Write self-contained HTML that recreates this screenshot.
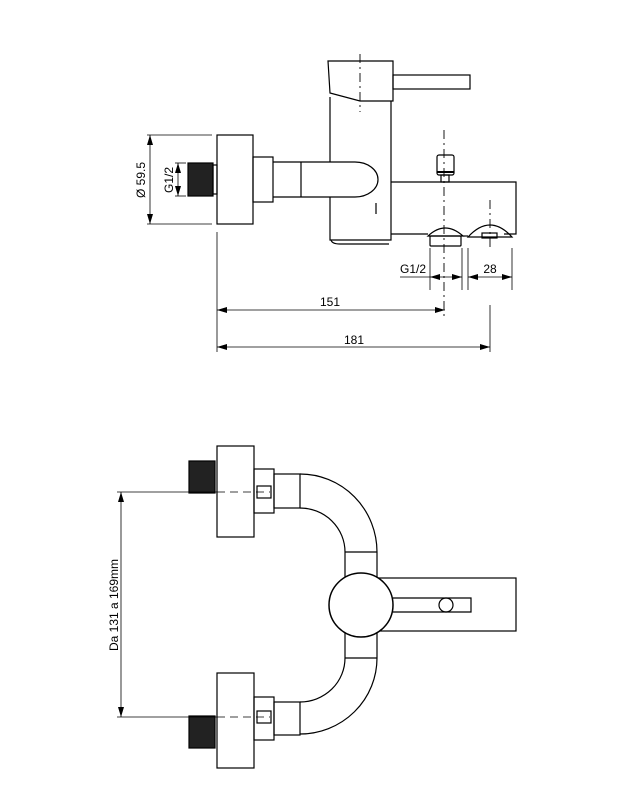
<!DOCTYPE html>
<html><head><meta charset="utf-8"><style>html,body{margin:0;padding:0;background:#fff}svg{display:block}</style></head>
<body>
<svg width="635" height="791" viewBox="0 0 635 791" xmlns="http://www.w3.org/2000/svg" font-family="Liberation Sans, sans-serif" font-size="12">
<defs>
<marker id="a" viewBox="0 0 10 6" refX="10" refY="3" markerWidth="10" markerHeight="6" orient="auto-start-reverse" markerUnits="userSpaceOnUse"><path d="M0,0L10,3L0,6z" fill="#000"/></marker>
</defs>
<g fill="none" stroke="#000" stroke-width="1.2">
<!-- TOP VIEW -->
<path d="M328,61H393V101H360L330,93Z"/>
<rect x="393" y="75" width="77" height="14"/>
<path d="M330,97V162M330,197V240H391V101"/>
<path d="M331,240Q332,244 340,244H389"/>
<line x1="360" y1="54" x2="360" y2="112" stroke-dasharray="9,4,2,4" stroke-width="0.9"/>
<rect x="217" y="135" width="36" height="89"/>
<rect x="253" y="157" width="20" height="45"/>
<path d="M273,162H355A23,17.5 0 0 1 355,197H273"/>
<line x1="301" y1="162" x2="301" y2="197"/>
<rect x="188" y="163" width="25" height="33" fill="#222"/>
<rect x="213" y="165" width="4" height="29"/>
<line x1="376" y1="203" x2="376" y2="214"/>
<path d="M391,182H516V234H504"/>
<path d="M391,234H428"/>
<path d="M463,236H468"/>
<rect x="437" y="155" width="17" height="20" rx="2"/>
<line x1="437" y1="172" x2="454" y2="172" stroke-width="2"/>
<rect x="441" y="175" width="8" height="7"/>
<path d="M428,236Q445,220 463,236Z"/>
<rect x="430" y="236" width="31" height="10" rx="1"/>
<path d="M468,237Q490,213 512,237Z"/>
<rect x="482" y="233" width="15" height="5"/>
<line x1="444" y1="130" x2="444" y2="316" stroke-dasharray="9,4,2,4" stroke-width="0.9"/>
<line x1="490" y1="200" x2="490" y2="250" stroke-dasharray="9,4,2,4" stroke-width="0.9"/>
<g stroke-width="0.8">
<line x1="147" y1="135" x2="212" y2="135"/><line x1="147" y1="224" x2="212" y2="224"/>
<line x1="150" y1="135" x2="150" y2="224" marker-start="url(#a)" marker-end="url(#a)"/>
<line x1="175" y1="163" x2="186" y2="163"/><line x1="175" y1="196" x2="186" y2="196"/>
<line x1="178" y1="163" x2="178" y2="196" marker-start="url(#a)" marker-end="url(#a)"/>
<line x1="430" y1="248" x2="430" y2="290"/><line x1="462" y1="248" x2="462" y2="290"/>
<line x1="468" y1="248" x2="468" y2="290"/><line x1="512" y1="248" x2="512" y2="290"/>
<line x1="400" y1="277" x2="430" y2="277"/>
<line x1="430" y1="277" x2="462" y2="277" marker-start="url(#a)" marker-end="url(#a)"/>
<line x1="468" y1="277" x2="512" y2="277" marker-start="url(#a)" marker-end="url(#a)"/>
<line x1="217" y1="232" x2="217" y2="352"/>
<line x1="490" y1="305" x2="490" y2="352"/>
<line x1="217" y1="310" x2="445" y2="310" marker-start="url(#a)" marker-end="url(#a)"/>
<line x1="217" y1="347" x2="490" y2="347" marker-start="url(#a)" marker-end="url(#a)"/>
</g>
<!-- BOTTOM VIEW -->
<rect x="217" y="446" width="37" height="91"/>
<rect x="189" y="461" width="26" height="32" fill="#222"/>
<rect x="254" y="469" width="20" height="44"/>
<rect x="274" y="474" width="26" height="34"/>
<path d="M300,474A77,78 0 0 1 377,552V658A77,76 0 0 1 300,734"/>
<path d="M300,508A45,44 0 0 1 345,552V658A45,44 0 0 1 300,702"/>
<line x1="345" y1="552" x2="377" y2="552"/>
<line x1="345" y1="658" x2="377" y2="658"/>
<rect x="377" y="578" width="139" height="53"/>
<circle cx="361" cy="605" r="32" fill="#fff" stroke-width="1.5"/>
<path d="M393,598H471V612H393"/>
<circle cx="446" cy="605" r="7"/>
<rect x="217" y="673" width="37" height="95"/>
<rect x="189" y="716" width="26" height="32" fill="#222"/>
<rect x="254" y="697" width="20" height="43"/>
<rect x="274" y="702" width="26" height="33"/>
<rect x="257" y="486" width="14" height="12"/>
<rect x="257" y="711" width="14" height="12"/>
<g stroke-width="0.8">
<line x1="117" y1="492" x2="217" y2="492"/>
<line x1="117" y1="717" x2="217" y2="717"/>
<line x1="217" y1="492" x2="270" y2="492" stroke-dasharray="8,5"/>
<line x1="217" y1="717" x2="270" y2="717" stroke-dasharray="8,5"/>
<line x1="121" y1="492" x2="121" y2="717" marker-start="url(#a)" marker-end="url(#a)"/>
</g>
</g>
<g fill="#000" font-size="12">
<text x="145" y="180" transform="rotate(-90 145 180)" text-anchor="middle">Ø 59.5</text>
<text x="173" y="180" transform="rotate(-90 173 180)" text-anchor="middle">G1/2</text>
<text x="413" y="273" text-anchor="middle">G1/2</text>
<text x="490" y="273" text-anchor="middle">28</text>
<text x="330" y="306" text-anchor="middle">151</text>
<text x="354" y="344" text-anchor="middle">181</text>
<text x="118" y="605" transform="rotate(-90 118 605)" text-anchor="middle">Da 131 a 169mm</text>
</g>
</svg>
</body></html>
